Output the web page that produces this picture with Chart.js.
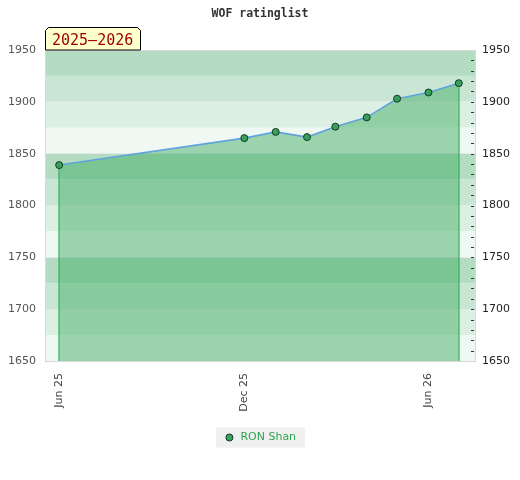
<!DOCTYPE html>
<html>
<head>
<meta charset="utf-8">
<script src="https://cdn.jsdelivr.net/npm/chart.js@4.4.1/dist/chart.umd.min.js"></script>
<style>
  html, body { margin: 0; padding: 0; background: #ffffff; }
  #wrap { width: 520px; height: 480px; position: relative; }
</style>
</head>
<body>
<div id="wrap"><canvas id="c" width="520" height="480"></canvas></div>
<script>
// ---- data ----
const chartTitle = 'WOF ratinglist';
const seasonLabel = '2025–2026';
const playerName = 'RON Shan';
const ratingDates = ['2025-06-01', '2025-12-01', '2026-01-01', '2026-02-01', '2026-03-01', '2026-04-01', '2026-05-01', '2026-06-01', '2026-07-01'];
const ratings = [1839, 1865, 1871, 1866, 1876, 1885, 1903, 1909, 1918];
const xTickDates = ['2025-06-01', '2025-12-01', '2026-06-01'];
const xTickLabels = ['Jun 25', 'Dec 25', 'Jun 26'];
const xRangeDates = ['2025-05-18', '2026-07-17'];
const yMin = 1650, yMax = 1950, yStep = 50, yMinorStep = 10, bandStep = 25;

// ---- helpers ----
const baseDate = Date.parse(ratingDates[0]);
const dayOf = s => (Date.parse(s) - baseDate) / 86400000;
const points = ratingDates.map((d, i) => ({ x: dayOf(d), y: ratings[i] }));
const xTickDays = xTickDates.map(dayOf);

const bandColors = ['#b3dcc3', '#c9e6d4', '#dcefe3', '#f0f8f3'];
const gridGray = '#d9d9d9';

const bandsPlugin = {
  id: 'bands',
  beforeDraw(chart) {
    const { ctx, chartArea: a, scales } = chart;
    const y = scales.y;
    ctx.save();
    let k = 0;
    for (let top = y.max; top > y.min; top -= bandStep, k++) {
      const y0 = y.getPixelForValue(top);
      const y1 = y.getPixelForValue(top - bandStep);
      ctx.fillStyle = bandColors[k % bandColors.length];
      ctx.fillRect(a.left, y0, a.right - a.left, y1 - y0);
    }
    // legend background
    const lg = chart.legend;
    if (lg && lg.legendHitBoxes && lg.legendHitBoxes.length) {
      const hb = lg.legendHitBoxes[0];
      ctx.fillStyle = '#f0f0f0';
      ctx.fillRect(hb.left - 8, hb.top + hb.height / 2 - 10, hb.width + 17, 20);
    }
    ctx.restore();
  },
  afterDatasetsDraw(chart) {
    const { ctx, chartArea: a, scales } = chart;
    const meta = chart.getDatasetMeta(0);
    ctx.save();
    // vertical lines at first and last point
    ctx.strokeStyle = '#2aae50';
    ctx.lineWidth = 1.2;
    [meta.data[0], meta.data[meta.data.length - 1]].forEach(p => {
      const x = Math.round(p.x);
      ctx.beginPath();
      ctx.moveTo(x, p.y + 4);
      ctx.lineTo(x, a.bottom);
      ctx.stroke();
    });
    // top border
    ctx.lineWidth = 1;
    ctx.strokeStyle = gridGray;
    ctx.beginPath();
    ctx.moveTo(a.left, a.top + 0.5);
    ctx.lineTo(a.right, a.top + 0.5);
    ctx.stroke();
    // minor ticks of right axis (inside the plot)
    const y2 = scales.y2;
    ctx.strokeStyle = '#333';
    y2.ticks.forEach(t => {
      const py = Math.round(y2.getPixelForValue(t.value)) + 0.5;
      if (py <= a.top + 1 || py >= a.bottom - 1) return;
      ctx.beginPath();
      ctx.moveTo(a.right - 4, py);
      ctx.lineTo(a.right - 1, py);
      ctx.stroke();
    });
    ctx.restore();
  },
  afterDraw(chart) {
    const { ctx, chartArea: a } = chart;
    ctx.save();
    // season badge
    const L = a.left + 0.5, R = a.left + 95.5, T = a.top - 22.5, B = a.top;
    ctx.beginPath();
    ctx.moveTo(L, B);
    ctx.lineTo(L, T + 3);
    ctx.lineTo(L + 3, T);
    ctx.lineTo(R - 3, T);
    ctx.lineTo(R, T + 3);
    ctx.lineTo(R, B);
    ctx.closePath();
    ctx.fillStyle = '#ffffcc';
    ctx.fill();
    ctx.strokeStyle = '#000';
    ctx.lineWidth = 1;
    ctx.stroke();
    ctx.fillStyle = '#990000';
    ctx.font = '15px "DejaVu Sans Mono", monospace';
    ctx.textAlign = 'left';
    ctx.textBaseline = 'alphabetic';
    ctx.fillText(seasonLabel, a.left + 7, a.top - 5);
    ctx.restore();
  }
};

const tickFont = { family: '"DejaVu Sans", sans-serif', size: 11 };

new Chart(document.getElementById('c'), {
  type: 'line',
  data: {
    datasets: [{
      label: playerName,
      data: points,
      yAxisID: 'y',
      borderColor: '#5fa3dc',
      borderWidth: 1.6,
      backgroundColor: 'rgba(63,171,99,0.48)',
      fill: 'start',
      tension: 0,
      pointRadius: 3.5,
      pointBorderWidth: 1,
      pointBackgroundColor: '#37a05c',
      pointBorderColor: '#173a24'
    }]
  },
  options: {
    responsive: false,
    animation: false,
    events: [],
    layout: { padding: { left: 0, right: 0, top: 0, bottom: 27 } },
    scales: {
      x: {
        type: 'linear',
        min: dayOf(xRangeDates[0]),
        max: dayOf(xRangeDates[1]),
        afterBuildTicks(scale) { scale.ticks = xTickDays.map(v => ({ value: v })); },
        afterFit(scale) { scale.height = 61; },
        grid: { display: false, drawTicks: false },
        border: { display: true, color: gridGray },
        ticks: {
          autoSkip: false,
          minRotation: 90,
          maxRotation: 90,
          padding: 12,
          color: '#444',
          font: tickFont,
          callback: (v, i) => xTickLabels[i]
        }
      },
      y: {
        position: 'left',
        min: yMin,
        max: yMax,
        afterFit(scale) { scale.width = 45; },
        grid: { color: '#e3e9e5', drawTicks: false },
        border: { display: true, color: gridGray },
        ticks: { stepSize: yStep, padding: 9, color: '#555', font: tickFont, callback: v => String(v) }
      },
      y2: {
        position: 'right',
        min: yMin,
        max: yMax,
        afterFit(scale) { scale.width = 45; },
        grid: { display: false, drawTicks: false, drawOnChartArea: false },
        border: { display: true, color: gridGray },
        ticks: {
          stepSize: yMinorStep,
          autoSkip: false,
          padding: 7,
          color: '#222',
          font: tickFont,
          callback: v => (v % yStep === 0 ? String(v) : '')
        }
      }
    },
    plugins: {
      title: {
        display: true,
        text: chartTitle,
        color: '#333',
        font: { family: '"DejaVu Sans Mono", monospace', size: 11.5, weight: 'bold' },
        padding: { top: 7.5, bottom: 28.7 }
      },
      legend: {
        position: 'bottom',
        labels: {
          usePointStyle: true,
          pointStyle: 'circle',
          boxHeight: 5,
          color: '#2ea451',
          font: { family: '"DejaVu Sans", sans-serif', size: 11 }
        }
      },
      tooltip: { enabled: false }
    }
  },
  plugins: [bandsPlugin]
});
</script>
</body>
</html>
